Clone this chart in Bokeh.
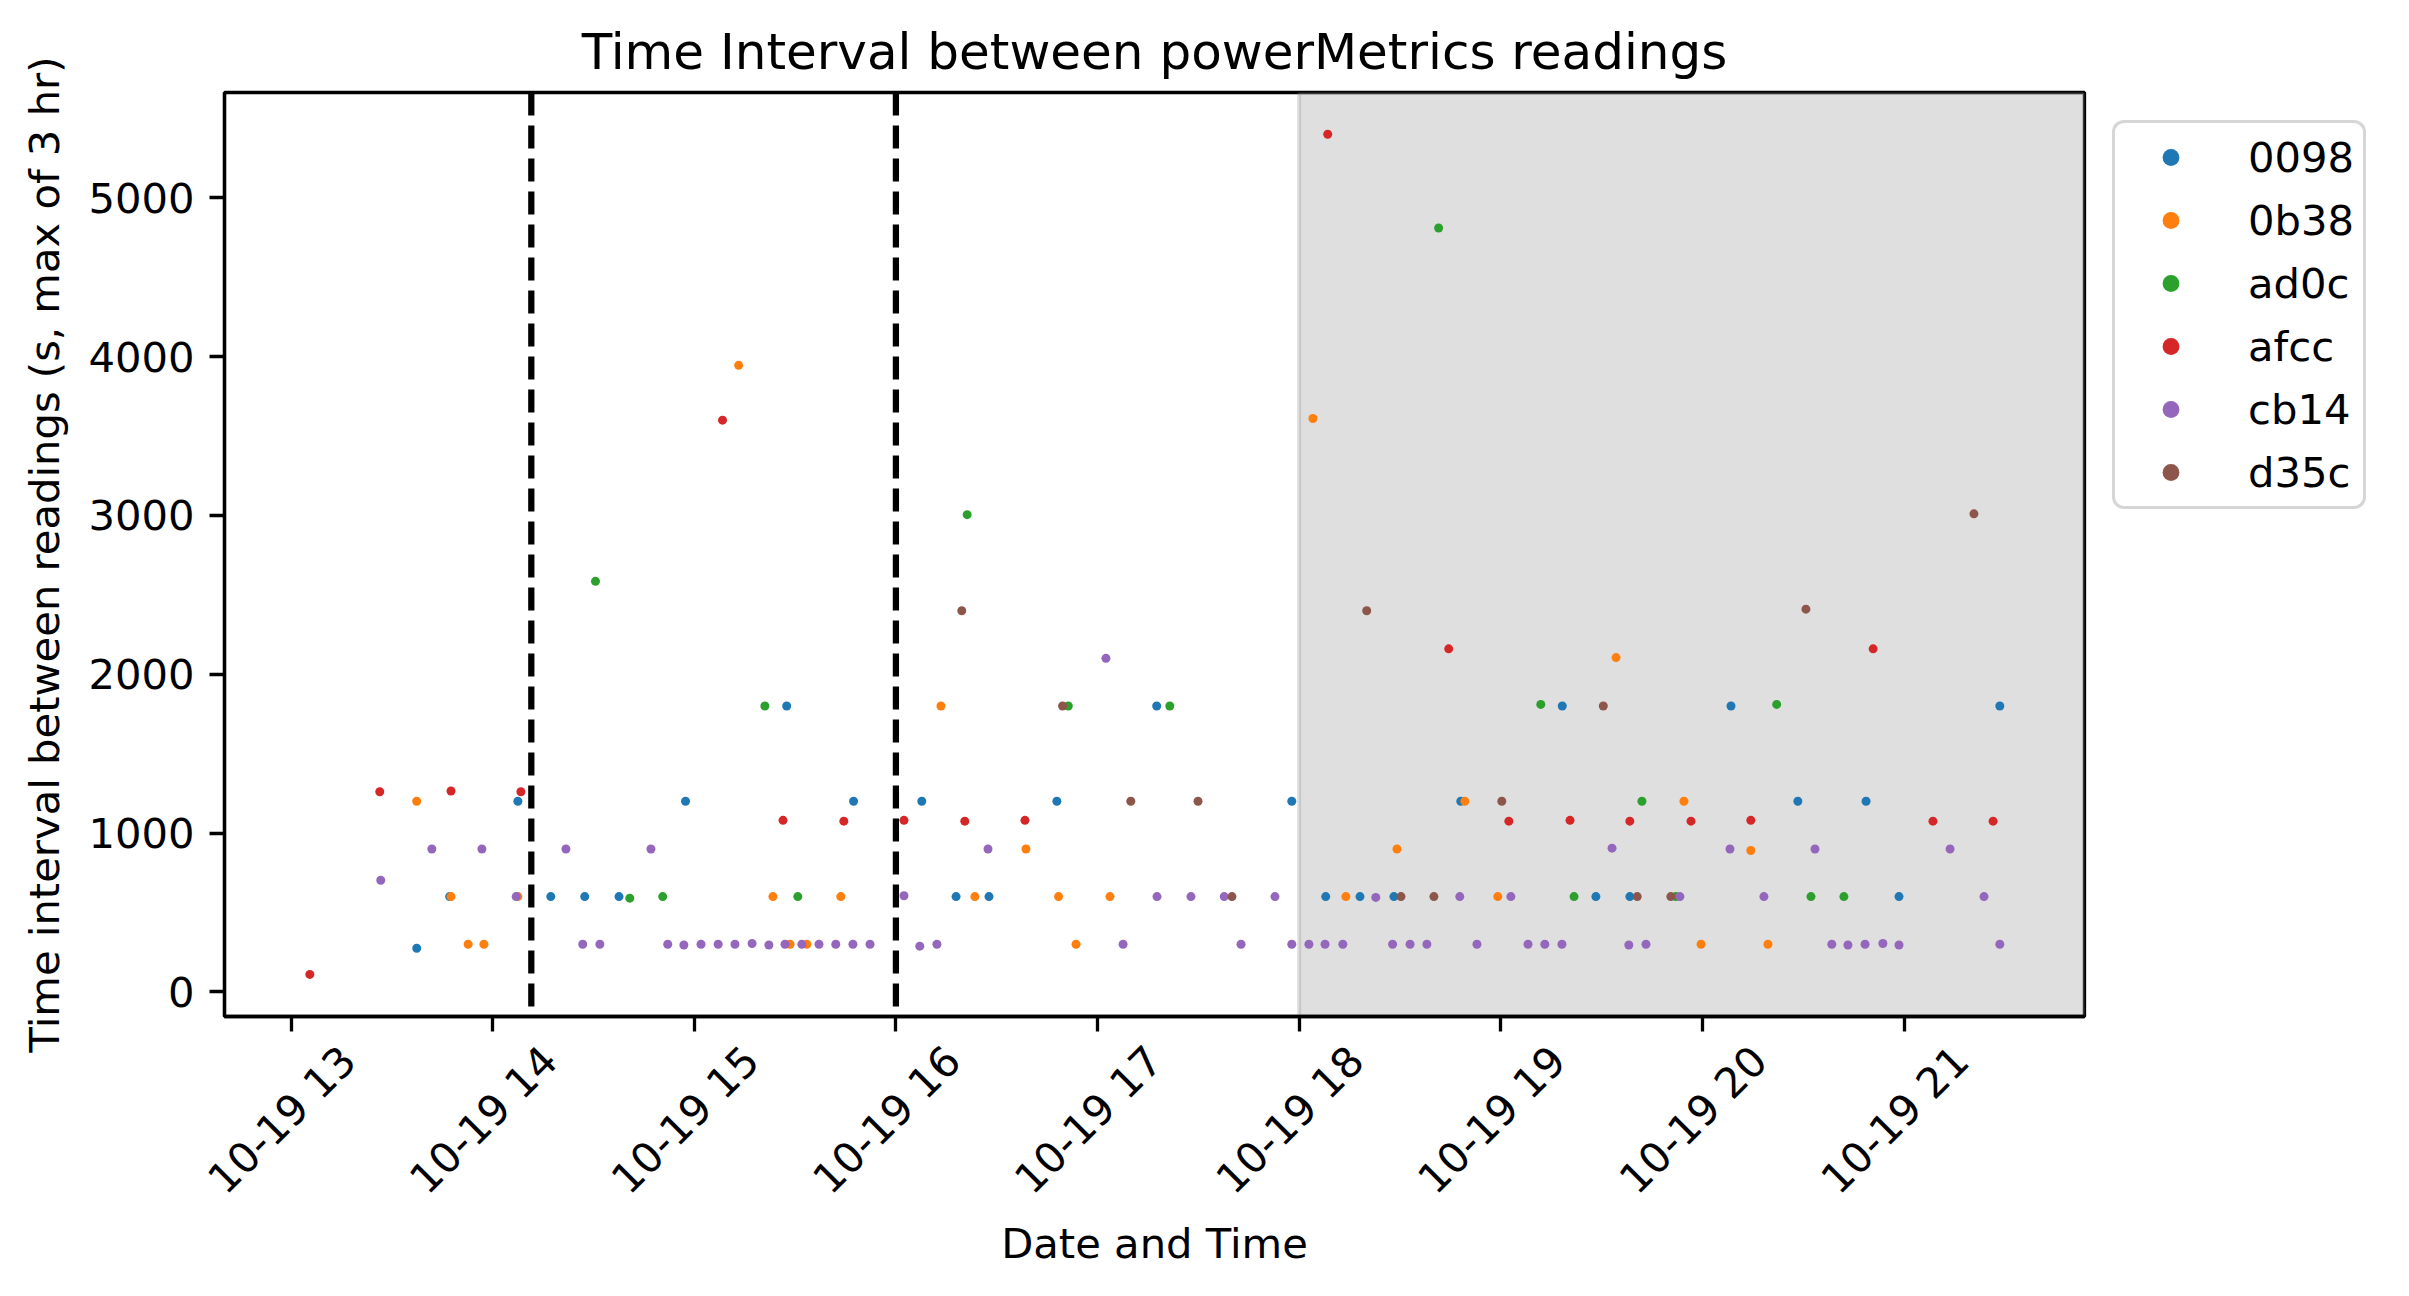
import math

import pandas as pd
from bokeh.embed import file_html
from bokeh.models import (BoxAnnotation, ColumnDataSource, DatetimeTickFormatter,
                          FixedTicker, Legend, LegendItem, Range1d, Span)
from bokeh.plotting import figure
from bokeh.resources import INLINE

DAY = "2023-10-19"

devices = ["0098", "0b38", "ad0c", "afcc", "cb14", "d35c"]
colors = ["#1f77b4", "#ff7f0e", "#2ca02c", "#d62728", "#9467bd", "#8c564b"]

t_0098 = ["13:37:24", "13:47:12", "14:07:30", "14:17:18", "14:27:24", "14:37:36",
          "14:57:24", "15:27:30", "15:47:24", "16:07:42", "16:17:54", "16:27:42",
          "16:47:54", "17:17:36", "17:57:48", "18:07:54", "18:18:06", "18:28:12",
          "18:48:06", "19:18:18", "19:28:18", "19:38:24", "20:08:30", "20:28:24",
          "20:48:42", "20:58:30", "21:28:30"]
v_0098 = [275, 600, 1200, 600, 600, 600, 1200, 1800, 1200, 1200, 600, 600,
          1200, 1800, 1200, 600, 600, 600, 1200, 1800, 600, 600, 1800, 1200,
          1200, 600, 1800]

t_0b38 = ["13:37:24", "13:47:36", "13:52:42", "13:57:24", "14:07:30", "15:13:12",
          "15:23:24", "15:28:30", "15:33:30", "15:43:36", "16:13:24", "16:23:30",
          "16:38:42", "16:48:24", "16:53:36", "17:03:42", "18:04:06", "18:13:54",
          "18:29:06", "18:49:18", "18:59:06", "19:34:18", "19:54:30", "19:59:36",
          "20:14:24", "20:19:30"]
v_0b38 = [1200, 600, 300, 300, 600, 3945, 600, 300, 300, 600, 1800, 600,
          900, 600, 300, 600, 3610, 600, 900, 1200, 600, 2105, 1200, 300,
          890, 300]

t_ad0c = ["14:30:36", "14:40:48", "14:50:36", "15:21:00", "15:30:48", "16:21:12",
          "16:51:18", "17:21:30", "18:41:30", "19:11:54", "19:21:48", "19:42:00",
          "19:52:06", "20:22:06", "20:32:18", "20:42:06"]
v_ad0c = [2585, 590, 600, 1800, 600, 3005, 1800, 1800, 4810, 1810, 600, 1200,
          600, 1810, 600, 600]

t_afcc = ["13:05:36", "13:26:24", "13:47:36", "14:08:24", "15:08:24", "15:26:24",
          "15:44:30", "16:02:24", "16:20:30", "16:38:24", "18:08:30", "18:44:30",
          "19:02:24", "19:20:36", "19:38:24", "19:56:36", "20:14:24", "20:50:48",
          "21:08:36", "21:26:30"]
v_afcc = [110, 1260, 1265, 1260, 3600, 1080, 1075, 1080, 1075, 1080, 5400, 2160,
          1075, 1080, 1075, 1075, 1080, 2160, 1075, 1075]

t_cb14 = ["13:26:42", "13:41:54", "13:56:48", "14:07:00", "14:21:48", "14:26:48",
          "14:31:54", "14:47:06", "14:52:06", "14:56:54", "15:02:00", "15:07:06",
          "15:12:06", "15:17:12", "15:22:12", "15:27:00", "15:32:00", "15:37:06",
          "15:42:06", "15:47:12", "15:52:18", "16:02:24", "16:07:06", "16:12:12",
          "16:27:24", "17:02:30", "17:07:36", "17:17:42", "17:27:48", "17:37:42",
          "17:42:42", "17:52:48", "17:57:48", "18:02:54", "18:07:42", "18:13:00",
          "18:22:48", "18:27:48", "18:33:00", "18:38:00", "18:47:48", "18:52:54",
          "19:03:00", "19:08:06", "19:13:06", "19:18:12", "19:33:06", "19:38:06",
          "19:43:12", "19:53:18", "20:08:12", "20:18:18", "20:33:30", "20:38:30",
          "20:43:18", "20:48:24", "20:53:42", "20:58:30", "21:13:42", "21:23:48",
          "21:28:30"]
v_cb14 = [703, 900, 900, 600, 900, 300, 300, 900, 300, 295, 300, 300,
          300, 305, 295, 300, 300, 300, 300, 300, 300, 605, 288, 300,
          900, 2100, 300, 600, 600, 600, 300, 600, 300, 300, 300, 300,
          595, 300, 300, 300, 600, 300, 600, 300, 300, 300, 905, 295,
          300, 600, 900, 600, 900, 300, 295, 300, 305, 295, 900, 600,
          300]

t_d35c = ["16:19:36", "16:49:36", "17:09:54", "17:29:54", "17:40:00", "18:20:06",
          "18:30:18", "18:40:06", "19:00:18", "19:30:30", "19:40:36", "19:50:36",
          "20:30:48", "21:20:48"]
v_d35c = [2400, 1800, 1200, 1200, 600, 2400, 600, 600, 1200, 1800, 600, 600,
          2410, 3010]

times = [t_0098, t_0b38, t_ad0c, t_afcc, t_cb14, t_d35c]
values = [v_0098, v_0b38, v_ad0c, v_afcc, v_cb14, v_d35c]

hour_ticks = ["13:00", "14:00", "15:00", "16:00", "17:00", "18:00",
              "19:00", "20:00", "21:00"]
y_ticks = [0, 1000, 2000, 3000, 4000, 5000]
dashed_lines = ["14:11:30", "16:00:00"]
shade_start = "18:00:00"
x_limits = ["12:40:12", "21:53:42"]
y_limits = [-155, 5663]

FONT = "DejaVu Sans"
# rotated labels are anchored at their right end; nudge them so they sit
# centred under the hour ticks like the original
LABEL_SHIFT_MS = 17 * 60 * 1000


def ms(hms):
    return pd.Timestamp(f"{DAY} {hms}").value / 1e6


p = figure(frame_width=1860, frame_height=924, x_axis_type="datetime",
           x_range=Range1d(ms(x_limits[0]), ms(x_limits[1])),
           y_range=Range1d(*y_limits),
           title="Time Interval between powerMetrics readings",
           x_axis_label="Date and Time",
           y_axis_label="Time interval between readings (s, max of 3 hr)",
           output_backend="svg", toolbar_location=None,
           min_border_left=224, min_border_right=0,
           min_border_top=92, min_border_bottom=262)

p.background_fill_color = "white"
p.border_fill_color = "white"
p.outline_line_color = "black"
p.outline_line_width = 3.3
p.xgrid.visible = False
p.ygrid.visible = False

p.title.text_font = FONT
p.title.text_font_size = "50px"
p.title.text_font_style = "normal"
p.title.text_color = "black"
p.title.align = "center"
p.title.standoff = 23

for ax in (p.xaxis[0], p.yaxis[0]):
    ax.axis_line_color = "black"
    ax.axis_line_width = 3.3
    ax.major_tick_line_color = "black"
    ax.major_tick_line_width = 3.3
    ax.major_tick_in = 0
    ax.major_tick_out = 15
    ax.minor_tick_line_color = None
    ax.major_label_text_font = FONT
    ax.major_label_text_font_size = "41.7px"
    ax.major_label_text_color = "black"
    ax.axis_label_text_font = FONT
    ax.axis_label_text_font_size = "41.7px"
    ax.axis_label_text_font_style = "normal"
    ax.axis_label_text_color = "black"

xax = p.xaxis[0]
xax.ticker = FixedTicker(ticks=[ms(h) + LABEL_SHIFT_MS for h in hour_ticks],
                         minor_ticks=[ms(h) for h in hour_ticks])
xax.formatter = DatetimeTickFormatter(hours="%m-%d %H", hourmin="%m-%d %H")
xax.major_tick_line_color = None
xax.minor_tick_line_color = "black"
xax.minor_tick_line_width = 3.3
xax.minor_tick_in = 0
xax.minor_tick_out = 15
xax.major_label_orientation = math.pi / 4
xax.major_label_standoff = 22
xax.axis_label_standoff = -5

yax = p.yaxis[0]
yax.ticker = FixedTicker(ticks=y_ticks, minor_ticks=[])
yax.major_label_standoff = 15
yax.axis_label_standoff = 16

p.add_layout(BoxAnnotation(left=ms(shade_start), fill_color="grey", fill_alpha=0.25,
                           line_color="grey", line_alpha=0.25, line_width=4,
                           level="underlay"))

items = []
for name, color, ts, vs in zip(devices, colors, times, values):
    src = ColumnDataSource(dict(x=[ms(t) for t in ts], y=vs))
    r = p.scatter("x", "y", source=src, size=9, fill_color=color, line_color=None)
    items.append(LegendItem(label=name, renderers=[r]))

for t in dashed_lines:
    p.add_layout(Span(location=ms(t), dimension="height", line_color="black",
                      line_width=6.25, line_dash="23 10"))

legend = Legend(items=items, location="top_left")
legend.label_text_font = FONT
legend.label_text_font_size = "41.7px"
legend.label_text_color = "black"
legend.glyph_width = 93
legend.glyph_height = 42
legend.label_height = 50
legend.label_standoff = 31
legend.spacing = 13
legend.padding = 9
legend.margin = 28
legend.border_line_color = "#cccccc"
legend.border_line_alpha = 0.8
legend.border_line_width = 3.3
legend.background_fill_color = "white"
legend.background_fill_alpha = 0.8
if "border_radius" in Legend.properties():
    legend.border_radius = 12
p.add_layout(legend, "right")

open("out.html", "w").write(file_html(p, INLINE))
